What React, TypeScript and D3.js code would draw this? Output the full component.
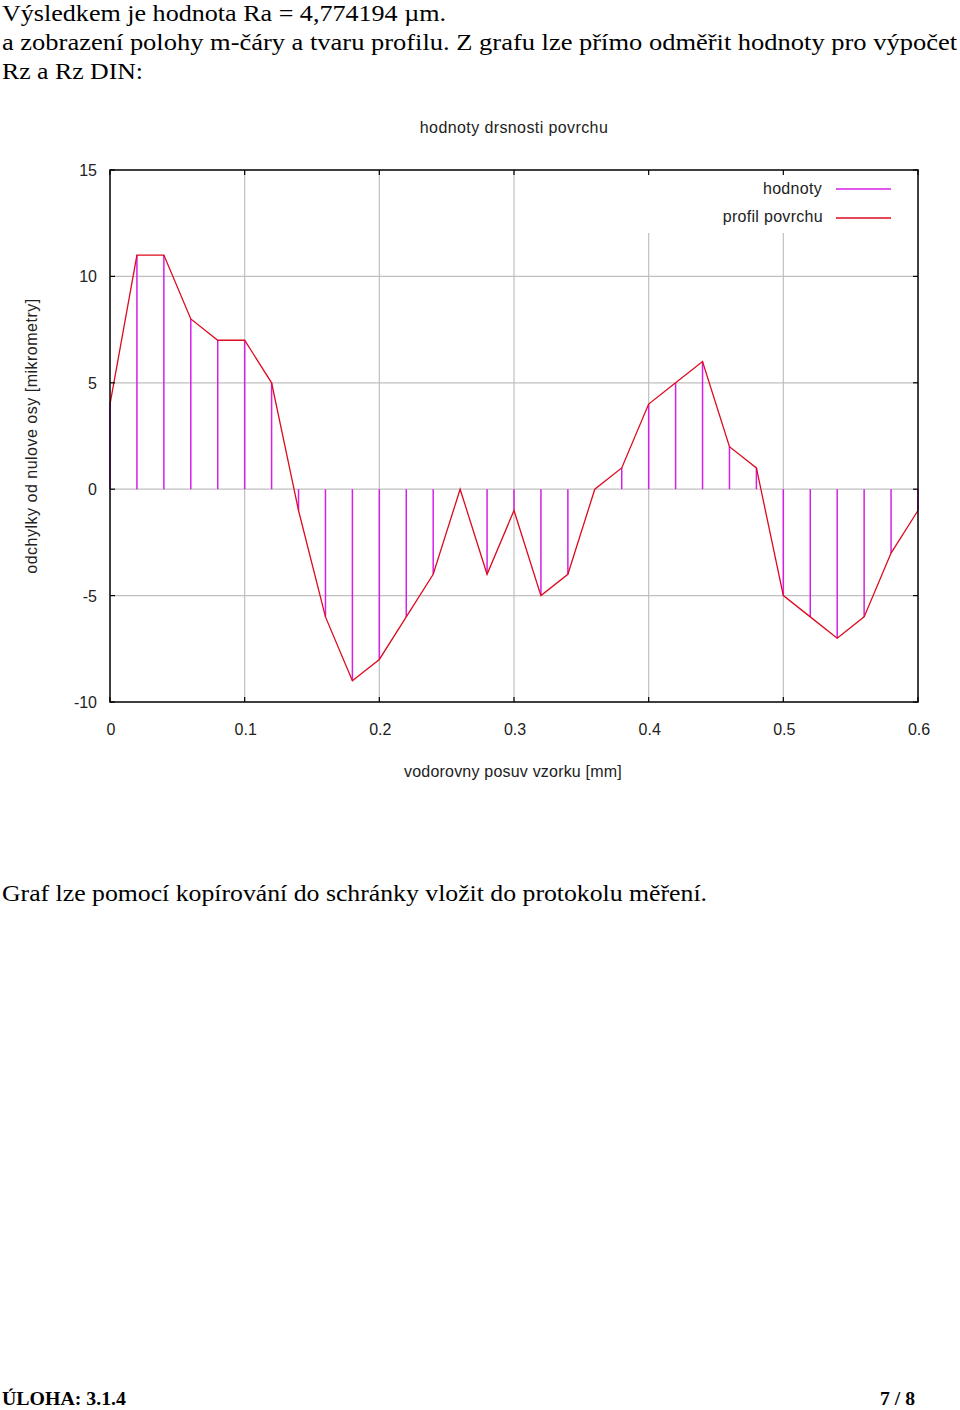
import React from "react";
import * as d3 from "d3";

const positions = [0, 0.02, 0.04, 0.06, 0.08, 0.1, 0.12, 0.14, 0.16, 0.18, 0.2, 0.22, 0.24, 0.26, 0.28, 0.3, 0.32, 0.34, 0.36, 0.38, 0.4, 0.42, 0.44, 0.46, 0.48, 0.5, 0.52, 0.54, 0.56, 0.58, 0.6];
const deviations = [4, 11, 11, 8, 7, 7, 5, -1, -6, -9, -8, -6, -4, 0, -4, -1, -5, -4, 0, 1, 4, 5, 6, 2, 1, -5, -6, -7, -6, -3, -1];
const xTicks = [0, 0.1, 0.2, 0.3, 0.4, 0.5, 0.6];
const yTicks = [-10, -5, 0, 5, 10, 15];
const xGrid = [0.1, 0.2, 0.3, 0.4, 0.5];
const yGrid = [-5, 0, 5, 10];

const chartTitle = "hodnoty drsnosti povrchu";
const xLabel = "vodorovny posuv vzorku [mm]";
const yLabel = "odchylky od nulove osy [mikrometry]";
const legendStems = "hodnoty";
const legendProfile = "profil povrchu";

const MAGENTA = "#d61fe6";
const RED = "#dd0a1e";
const GRID = "#c0c0c0";
const SANS = "'Liberation Sans', Arial, sans-serif";
const SERIF = "'Liberation Serif', 'Times New Roman', serif";

export default function App() {
  const left = 110, right = 918, top = 170, bottom = 702;
  const x = d3.scaleLinear().domain([0, 0.6]).range([left, right]);
  const y = d3.scaleLinear().domain([-10, 15]).range([bottom, top]);
  const pts = positions.map((p, i) => [p, deviations[i]] as [number, number]);
  const line = d3.line<[number, number]>().x(d => x(d[0])).y(d => y(d[1]));
  const tl = 5;

  return (
    <svg width={960} height={1410} style={{ position: "absolute", left: 0, top: 0, background: "#fff" }}>
      <rect x={0} y={0} width={960} height={1410} fill="#fff" />
      {/* page text */}
      <g fontFamily={SERIF} fontSize={24} fill="#000">
        <text x={2} y={21} textLength={444} lengthAdjust="spacingAndGlyphs">Výsledkem je hodnota Ra = 4,774194  µm.</text>
        <text x={2} y={50} textLength={955} lengthAdjust="spacingAndGlyphs">a zobrazení polohy m-čáry a tvaru profilu. Z grafu lze přímo odměřit hodnoty pro výpočet</text>
        <text x={2} y={79} textLength={141} lengthAdjust="spacingAndGlyphs">Rz a Rz DIN:</text>
        <text x={2} y={901} textLength={705} lengthAdjust="spacingAndGlyphs">Graf lze pomocí kopírování do schránky vložit do protokolu měření.</text>
      </g>
      <g fontFamily={SERIF} fontSize={19} fontWeight="bold" fill="#000">
        <text x={2} y={1405} textLength={124} lengthAdjust="spacingAndGlyphs">ÚLOHA: 3.1.4</text>
        <text x={880} y={1405} textLength={35} lengthAdjust="spacingAndGlyphs">7 / 8</text>
      </g>

      {/* grid */}
      <g stroke={GRID} strokeWidth={1.2}>
        {xGrid.map(v => (
          <line key={"gx" + v} x1={x(v)} x2={x(v)} y1={top} y2={bottom} />
        ))}
        {yGrid.map(v => (
          <line key={"gy" + v} x1={left} x2={right} y1={y(v)} y2={y(v)} />
        ))}
      </g>
      {/* legend background */}
      <rect x={625} y={top + 1} width={right - 626} height={62} fill="#fff" />

      {/* stems */}
      <g stroke={MAGENTA} strokeWidth={1.5}>
        {pts.map((d, i) => (
          <line key={"s" + i} x1={x(d[0])} x2={x(d[0])} y1={y(0)} y2={y(d[1])} />
        ))}
      </g>
      {/* profile */}
      <path d={line(pts) || ""} fill="none" stroke={RED} strokeWidth={1.3} />

      {/* border & ticks */}
      <rect x={left} y={top} width={right - left} height={bottom - top} fill="none" stroke="#000" strokeWidth={1.5} />
      <g stroke="#000" strokeWidth={1.2}>
        {xTicks.map(v => (
          <g key={"tx" + v}>
            <line x1={x(v)} x2={x(v)} y1={bottom} y2={bottom - tl} />
            <line x1={x(v)} x2={x(v)} y1={top} y2={top + tl} />
          </g>
        ))}
        {yTicks.map(v => (
          <g key={"ty" + v}>
            <line x1={left} x2={left + tl} y1={y(v)} y2={y(v)} />
            <line x1={right} x2={right - tl} y1={y(v)} y2={y(v)} />
          </g>
        ))}
      </g>

      {/* tick labels */}
      <g fontFamily={SANS} fontSize={16} fill="#222">
        {xTicks.map(v => (
          <text key={"lx" + v} x={x(v) + 1} y={735} textAnchor="middle">{String(v)}</text>
        ))}
        {yTicks.map(v => (
          <text key={"ly" + v} x={97} y={y(v) + 6} textAnchor="end">{String(v)}</text>
        ))}
      </g>

      {/* titles */}
      <g fontFamily={SANS} fontSize={16} fill="#222">
        <text x={514} y={133} textAnchor="middle" letterSpacing={0.4}>{chartTitle}</text>
        <text x={513} y={777} textAnchor="middle" letterSpacing={0.2}>{xLabel}</text>
        <text transform={`translate(37, ${(top + bottom) / 2}) rotate(-90)`} textAnchor="middle" letterSpacing={0.5}>{yLabel}</text>
        <text x={822} y={194} textAnchor="end" letterSpacing={0.3}>{legendStems}</text>
        <text x={823} y={222} textAnchor="end" letterSpacing={0.3}>{legendProfile}</text>
      </g>
      <line x1={836} x2={891} y1={189} y2={189} stroke={MAGENTA} strokeWidth={1.5} />
      <line x1={836} x2={891} y1={218} y2={218} stroke={RED} strokeWidth={1.3} />
    </svg>
  );
}
